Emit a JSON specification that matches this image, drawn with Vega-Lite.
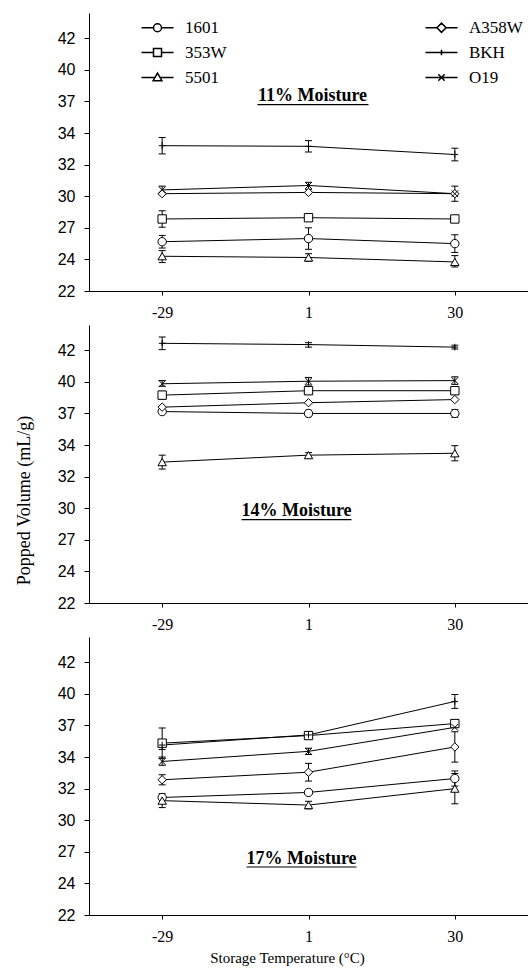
{
  "$schema": "https://vega.github.io/schema/vega-lite/v6.json",
  "padding": {"top": 13, "left": 15, "right": 0, "bottom": 3},
  "background": "white",
  "bounds": "flush",
  "spacing": 34,
  "resolve": {"scale": {"shape": "independent"}, "legend": {"shape": "independent"}},
  "config": {
    "view": {"stroke": null},
    "axis": {"grid": false, "domainColor": "black", "tickColor": "black", "labelColor": "black", "titleColor": "black", "domainWidth": 1, "tickWidth": 1},
    "axisX": {"labelFont": "Liberation Serif", "labelFontSize": 16, "tickSize": 4, "labelPadding": 9, "labelAngle": 0, "titleFont": "Liberation Serif", "titleFontSize": 15, "titleFontWeight": "normal", "titlePadding": 6},
    "axisY": {"labelFont": "Liberation Sans", "labelFontSize": 16, "tickSize": 5, "labelPadding": 9, "labelOverlap": false, "tickCount": 20, "titleFont": "Liberation Serif", "titleFontSize": 18, "titleFontWeight": "normal", "titlePadding": 24}
  },
  "datasets": {
    "d": [
      {"m": 11, "t": "-29", "c": "1601", "v": 25.9, "lo": 25.4, "hi": 26.4},
      {"m": 11, "t": "1", "c": "1601", "v": 26.15, "lo": 25.3, "hi": 27.0},
      {"m": 11, "t": "30", "c": "1601", "v": 25.75, "lo": 25.05, "hi": 26.45},
      {"m": 11, "t": "-29", "c": "353W", "v": 27.7, "lo": 27.05, "hi": 28.35},
      {"m": 11, "t": "1", "c": "353W", "v": 27.8, "lo": null, "hi": null},
      {"m": 11, "t": "30", "c": "353W", "v": 27.7, "lo": null, "hi": null},
      {"m": 11, "t": "-29", "c": "5501", "v": 24.75, "lo": 24.25, "hi": 25.2},
      {"m": 11, "t": "1", "c": "5501", "v": 24.65, "lo": 24.35, "hi": 24.95},
      {"m": 11, "t": "30", "c": "5501", "v": 24.3, "lo": 23.9, "hi": 24.8},
      {"m": 11, "t": "-29", "c": "A358W", "v": 29.7, "lo": null, "hi": null},
      {"m": 11, "t": "1", "c": "A358W", "v": 29.8, "lo": null, "hi": null},
      {"m": 11, "t": "30", "c": "A358W", "v": 29.7, "lo": 29.1, "hi": 30.3},
      {"m": 11, "t": "-29", "c": "BKH", "v": 33.5, "lo": 32.85, "hi": 34.15},
      {"m": 11, "t": "1", "c": "BKH", "v": 33.45, "lo": 33.0, "hi": 33.9},
      {"m": 11, "t": "30", "c": "BKH", "v": 32.8, "lo": 32.3, "hi": 33.3},
      {"m": 11, "t": "-29", "c": "O19", "v": 30.0, "lo": 29.75, "hi": 30.3},
      {"m": 11, "t": "1", "c": "O19", "v": 30.35, "lo": 30.05, "hi": 30.6},
      {"m": 11, "t": "30", "c": "O19", "v": 29.7, "lo": null, "hi": null},

      {"m": 14, "t": "-29", "c": "1601", "v": 37.15, "lo": null, "hi": null},
      {"m": 14, "t": "1", "c": "1601", "v": 37.0, "lo": 36.75, "hi": 37.25},
      {"m": 14, "t": "30", "c": "1601", "v": 37.0, "lo": 36.7, "hi": 37.3},
      {"m": 14, "t": "-29", "c": "353W", "v": 38.45, "lo": 38.15, "hi": 38.75},
      {"m": 14, "t": "1", "c": "353W", "v": 38.8, "lo": 38.5, "hi": 39.05},
      {"m": 14, "t": "30", "c": "353W", "v": 38.8, "lo": 38.5, "hi": 39.1},
      {"m": 14, "t": "-29", "c": "5501", "v": 33.15, "lo": 32.6, "hi": 33.7},
      {"m": 14, "t": "1", "c": "5501", "v": 33.7, "lo": 33.5, "hi": 33.9},
      {"m": 14, "t": "30", "c": "5501", "v": 33.85, "lo": 33.25, "hi": 34.45},
      {"m": 14, "t": "-29", "c": "A358W", "v": 37.5, "lo": null, "hi": null},
      {"m": 14, "t": "1", "c": "A358W", "v": 37.85, "lo": null, "hi": null},
      {"m": 14, "t": "30", "c": "A358W", "v": 38.1, "lo": null, "hi": null},
      {"m": 14, "t": "-29", "c": "BKH", "v": 42.55, "lo": 42.05, "hi": 43.05},
      {"m": 14, "t": "1", "c": "BKH", "v": 42.45, "lo": 42.25, "hi": 42.6},
      {"m": 14, "t": "30", "c": "BKH", "v": 42.25, "lo": 42.1, "hi": 42.4},
      {"m": 14, "t": "-29", "c": "O19", "v": 39.35, "lo": 39.15, "hi": 39.6},
      {"m": 14, "t": "1", "c": "O19", "v": 39.55, "lo": 39.25, "hi": 39.85},
      {"m": 14, "t": "30", "c": "O19", "v": 39.6, "lo": 39.3, "hi": 39.9},

      {"m": 17, "t": "-29", "c": "1601", "v": 31.3, "lo": null, "hi": null},
      {"m": 17, "t": "1", "c": "1601", "v": 31.7, "lo": null, "hi": null},
      {"m": 17, "t": "30", "c": "1601", "v": 32.8, "lo": 32.2, "hi": 33.4},
      {"m": 17, "t": "-29", "c": "353W", "v": 35.6, "lo": 34.4, "hi": 36.8},
      {"m": 17, "t": "1", "c": "353W", "v": 36.2, "lo": 35.9, "hi": 36.5},
      {"m": 17, "t": "30", "c": "353W", "v": 37.15, "lo": 36.85, "hi": 37.45},
      {"m": 17, "t": "-29", "c": "5501", "v": 31.05, "lo": 30.5, "hi": 31.6},
      {"m": 17, "t": "1", "c": "5501", "v": 30.7, "lo": 30.4, "hi": 31.0},
      {"m": 17, "t": "30", "c": "5501", "v": 32.0, "lo": 30.8, "hi": 33.2},
      {"m": 17, "t": "-29", "c": "A358W", "v": 32.7, "lo": 32.3, "hi": 33.1},
      {"m": 17, "t": "1", "c": "A358W", "v": 33.3, "lo": 32.6, "hi": 34.0},
      {"m": 17, "t": "30", "c": "A358W", "v": 35.3, "lo": 34.1, "hi": 36.5},
      {"m": 17, "t": "-29", "c": "BKH", "v": 35.45, "lo": 35.1, "hi": 35.8},
      {"m": 17, "t": "1", "c": "BKH", "v": 36.25, "lo": 36.0, "hi": 36.5},
      {"m": 17, "t": "30", "c": "BKH", "v": 38.9, "lo": 38.35, "hi": 39.45},
      {"m": 17, "t": "-29", "c": "O19", "v": 34.15, "lo": 33.85, "hi": 34.5},
      {"m": 17, "t": "1", "c": "O19", "v": 34.95, "lo": 34.7, "hi": 35.2},
      {"m": 17, "t": "30", "c": "O19", "v": 36.85, "lo": null, "hi": null}
    ]
  },
  "vconcat": [
    {
      "width": 439, "height": 278,
      "layer": [
        {
          "data": {"name": "d"},
          "transform": [{"filter": "datum.m == 11"}],
          "encoding": {
            "x": {"field": "t", "type": "ordinal", "sort": ["-29", "1", "30"], "scale": {"type": "point", "padding": 0.5}, "axis": {"title": null}},
            "y": {"field": "v", "type": "quantitative", "scale": {"domain": [22, 44], "nice": false, "zero": false}, "axis": {"title": null, "values": [22, 24.5, 27, 29.5, 32, 34.5, 37, 39.5, 42], "labelExpr": "datum.value == 24.5 ? '24' : datum.value == 29.5 ? '30' : datum.value == 34.5 ? '34' : datum.value == 39.5 ? '40' : datum.label"}}
          },
          "resolve": {"scale": {"shape": "independent"}, "legend": {"shape": "independent"}},
          "layer": [
            {"mark": {"type": "line", "color": "black", "strokeWidth": 1}, "encoding": {"detail": {"field": "c"}}},
            {"mark": {"type": "rule", "color": "black", "strokeWidth": 1}, "encoding": {"y": {"field": "lo", "type": "quantitative"}, "y2": {"field": "hi"}}},
            {"mark": {"type": "tick", "color": "black", "size": 7, "thickness": 1, "opacity": 1}, "encoding": {"y": {"field": "lo", "type": "quantitative"}}},
            {"mark": {"type": "tick", "color": "black", "size": 7, "thickness": 1, "opacity": 1}, "encoding": {"y": {"field": "hi", "type": "quantitative"}}},
            {
              "mark": {"type": "point", "filled": true, "fill": "white", "stroke": "black", "strokeWidth": 1, "size": 70, "opacity": 1},
              "encoding": {
                "shape": {
                  "field": "c", "type": "nominal",
                  "scale": {"domain": ["1601", "353W", "5501", "A358W", "BKH", "O19"], "range": ["circle", "square", "triangle-up", "diamond", "M-0.8,0H0.8M0,-0.8V0.8", "M-0.8,-0.8L0.8,0.8M0.8,-0.8L-0.8,0.8"]},
                  "legend": null
                }
              }
            },
            {
              "transform": [{"filter": "datum.m == 0"}],
              "mark": {"type": "point", "filled": true, "fill": "white", "stroke": "black", "strokeWidth": 1, "size": 64, "opacity": 1},
              "encoding": {
                "shape": {
                  "field": "c", "type": "nominal",
                  "scale": {"domain": ["1601", "353W", "5501", "A358W", "BKH", "O19"], "range": [
                    "M-4,0H-1M1,0H4M-1,0A1,1,0,1,1,1,0A1,1,0,1,1,-1,0",
                    "M-4,0H-1M1,0H4M-1,-1H1V1H-1Z",
                    "M-4,0H-0.64M0.64,0H4M0,-1.1L1.1,0.8H-1.1Z",
                    "M-4,0H-1.15M1.15,0H4M-1.15,0L0,-1.15L1.15,0L0,1.15Z",
                    "M-4,0H4M0,-0.7V0.7",
                    "M-4,0H4M-0.8,-0.8L0.8,0.8M0.8,-0.8L-0.8,0.8"
                  ]},
                  "legend": {
                    "title": null, "orient": "none", "legendX": 60, "legendY": 6, "columns": 2, "columnPadding": 195, "rowPadding": 7,
                    "labelFont": "Liberation Serif", "labelFontSize": 17, "labelColor": "black", "labelOffset": 19,
                    "symbolSize": 64
                  }
                }
              }
            }
          ]
        },
        {
          "data": {"values": [{"label": "11% Moisture"}]},
          "mark": {"type": "text", "font": "Liberation Serif", "fontSize": 18, "fontWeight": "bold", "color": "black", "align": "center", "baseline": "middle", "dx": 4},
          "encoding": {"x": {"datum": "1", "type": "ordinal"}, "y": {"datum": 37.4, "type": "quantitative"}, "text": {"field": "label"}}
        },
        {
          "data": {"values": [{"label": "11% Moisture"}]},
          "mark": {"type": "rule", "color": "black", "strokeWidth": 1.2, "xOffset": -51, "x2Offset": 60},
          "encoding": {"x": {"datum": "1", "type": "ordinal"}, "x2": {"datum": "1"}, "y": {"datum": 36.75, "type": "quantitative"}}
        }
      ]
    },
    {
      "width": 439, "height": 278,
      "layer": [
        {
          "data": {"name": "d"},
          "transform": [{"filter": "datum.m == 14"}],
          "encoding": {
            "x": {"field": "t", "type": "ordinal", "sort": ["-29", "1", "30"], "scale": {"type": "point", "padding": 0.5}, "axis": {"title": null}},
            "y": {"field": "v", "type": "quantitative", "scale": {"domain": [22, 44], "nice": false, "zero": false}, "axis": {"title": "Popped Volume (mL/g)", "titleY": 175, "values": [22, 24.5, 27, 29.5, 32, 34.5, 37, 39.5, 42], "labelExpr": "datum.value == 24.5 ? '24' : datum.value == 29.5 ? '30' : datum.value == 34.5 ? '34' : datum.value == 39.5 ? '40' : datum.label"}}
          },
          "layer": [
            {"mark": {"type": "line", "color": "black", "strokeWidth": 1}, "encoding": {"detail": {"field": "c"}}},
            {"mark": {"type": "rule", "color": "black", "strokeWidth": 1}, "encoding": {"y": {"field": "lo", "type": "quantitative"}, "y2": {"field": "hi"}}},
            {"mark": {"type": "tick", "color": "black", "size": 7, "thickness": 1, "opacity": 1}, "encoding": {"y": {"field": "lo", "type": "quantitative"}}},
            {"mark": {"type": "tick", "color": "black", "size": 7, "thickness": 1, "opacity": 1}, "encoding": {"y": {"field": "hi", "type": "quantitative"}}},
            {
              "mark": {"type": "point", "filled": true, "fill": "white", "stroke": "black", "strokeWidth": 1, "size": 70, "opacity": 1},
              "encoding": {
                "shape": {
                  "field": "c", "type": "nominal",
                  "scale": {"domain": ["1601", "353W", "5501", "A358W", "BKH", "O19"], "range": ["circle", "square", "triangle-up", "diamond", "M-0.8,0H0.8M0,-0.8V0.8", "M-0.8,-0.8L0.8,0.8M0.8,-0.8L-0.8,0.8"]},
                  "legend": null
                }
              }
            }
          ]
        },
        {
          "data": {"values": [{"label": "14% Moisture"}]},
          "mark": {"type": "text", "font": "Liberation Serif", "fontSize": 18, "fontWeight": "bold", "color": "black", "align": "center", "baseline": "middle", "dx": -12},
          "encoding": {"x": {"datum": "1", "type": "ordinal"}, "y": {"datum": 29.25, "type": "quantitative"}, "text": {"field": "label"}}
        },
        {
          "data": {"values": [{"label": "14% Moisture"}]},
          "mark": {"type": "rule", "color": "black", "strokeWidth": 1.2, "xOffset": -67, "x2Offset": 43},
          "encoding": {"x": {"datum": "1", "type": "ordinal"}, "x2": {"datum": "1"}, "y": {"datum": 28.6, "type": "quantitative"}}
        }
      ]
    },
    {
      "width": 439, "height": 278,
      "layer": [
        {
          "data": {"name": "d"},
          "transform": [{"filter": "datum.m == 17"}],
          "encoding": {
            "x": {"field": "t", "type": "ordinal", "sort": ["-29", "1", "30"], "scale": {"type": "point", "padding": 0.5}, "axis": {"title": "Storage Temperature (°C)", "titleX": 198}},
            "y": {"field": "v", "type": "quantitative", "scale": {"domain": [22, 44], "nice": false, "zero": false}, "axis": {"title": null, "values": [22, 24.5, 27, 29.5, 32, 34.5, 37, 39.5, 42], "labelExpr": "datum.value == 24.5 ? '24' : datum.value == 29.5 ? '30' : datum.value == 34.5 ? '34' : datum.value == 39.5 ? '40' : datum.label"}}
          },
          "layer": [
            {"mark": {"type": "line", "color": "black", "strokeWidth": 1}, "encoding": {"detail": {"field": "c"}}},
            {"mark": {"type": "rule", "color": "black", "strokeWidth": 1}, "encoding": {"y": {"field": "lo", "type": "quantitative"}, "y2": {"field": "hi"}}},
            {"mark": {"type": "tick", "color": "black", "size": 7, "thickness": 1, "opacity": 1}, "encoding": {"y": {"field": "lo", "type": "quantitative"}}},
            {"mark": {"type": "tick", "color": "black", "size": 7, "thickness": 1, "opacity": 1}, "encoding": {"y": {"field": "hi", "type": "quantitative"}}},
            {
              "mark": {"type": "point", "filled": true, "fill": "white", "stroke": "black", "strokeWidth": 1, "size": 70, "opacity": 1},
              "encoding": {
                "shape": {
                  "field": "c", "type": "nominal",
                  "scale": {"domain": ["1601", "353W", "5501", "A358W", "BKH", "O19"], "range": ["circle", "square", "triangle-up", "diamond", "M-0.8,0H0.8M0,-0.8V0.8", "M-0.8,-0.8L0.8,0.8M0.8,-0.8L-0.8,0.8"]},
                  "legend": null
                }
              }
            }
          ]
        },
        {
          "data": {"values": [{"label": "17% Moisture"}]},
          "mark": {"type": "text", "font": "Liberation Serif", "fontSize": 18, "fontWeight": "bold", "color": "black", "align": "center", "baseline": "middle", "dx": -7},
          "encoding": {"x": {"datum": "1", "type": "ordinal"}, "y": {"datum": 26.4, "type": "quantitative"}, "text": {"field": "label"}}
        },
        {
          "data": {"values": [{"label": "17% Moisture"}]},
          "mark": {"type": "rule", "color": "black", "strokeWidth": 1.2, "xOffset": -62, "x2Offset": 48},
          "encoding": {"x": {"datum": "1", "type": "ordinal"}, "x2": {"datum": "1"}, "y": {"datum": 25.8, "type": "quantitative"}}
        }
      ]
    }
  ]
}
